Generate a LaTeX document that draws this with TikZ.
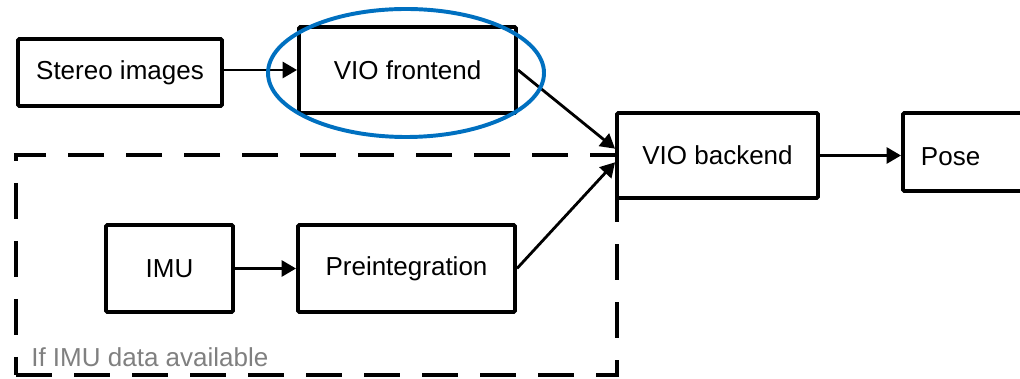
\documentclass[tikz,border=0pt]{standalone}
\usepackage{fontspec}
\setmainfont{Liberation Sans}
\usetikzlibrary{arrows.meta,shapes.geometric}
\definecolor{hiblue}{RGB}{0,112,192}

\begin{document}
\begin{tikzpicture}[bnode/.style={draw,line width=2.8pt,fill=white,rounded corners=1pt,inner sep=0pt,font=\fontsize{18.5}{22}\selectfont}, >={Triangle[length=0.36cm,width=0.4cm]}, link/.style={line width=2pt}]
    \useasboundingbox (0,0) rectangle (25.5,9.475);

    \node[draw,dash pattern=on 0.9cm off 0.55cm,line width=2.8pt,minimum width=15.025cm,minimum height=5.5cm,inner sep=0pt] (opt) at (7.9125,2.85) {};
    \node[text=black!50,font=\fontsize{18.5}{22}\selectfont,inner sep=0pt,anchor=base west] (optl) at (0.775,0.3) {If IMU data available};

    \node[bnode,minimum width=5.1cm,minimum height=1.675cm] (stereo) at (3.0,7.6625) {Stereo images};
    \node[bnode,minimum width=5.425cm,minimum height=2.15cm] (front) at (10.1875,7.725) {VIO frontend};
    \node[bnode,minimum width=5.025cm,minimum height=2.125cm] (back) at (17.9375,5.5875) {VIO backend};
    \node[bnode,minimum width=4cm,minimum height=1.95cm,anchor=west,align=left,text width=3.1cm,inner xsep=0.45cm,text height=0.7cm] (pose) at (22.525,5.675) {Pose};
    \node[bnode,minimum width=3.175cm,minimum height=2.175cm] (imu) at (4.2375,2.7625) {IMU};
    \node[bnode,minimum width=5.425cm,minimum height=2.175cm] (pre) at (10.1625,2.7625) {Preintegration};

    \begin{scope}[link]
    \draw[->] (stereo.east |- front) to (front.west) ;
    \draw[->] (front.east) to ([yshift=0.17cm]back.west) ;
    \draw[->] (pre.east) to ([yshift=-0.17cm]back.west) ;
    \draw[->] (back.east) to (back.east -| pose.west) ;
    \draw[->] (imu) to (pre) ;
    \end{scope}

    \node[draw=hiblue,ellipse,line width=2.8pt,minimum width=6.9cm,minimum height=3.2cm,inner sep=0pt] (focus) at (10.15,7.65) {};
\end{tikzpicture}
\end{document}
